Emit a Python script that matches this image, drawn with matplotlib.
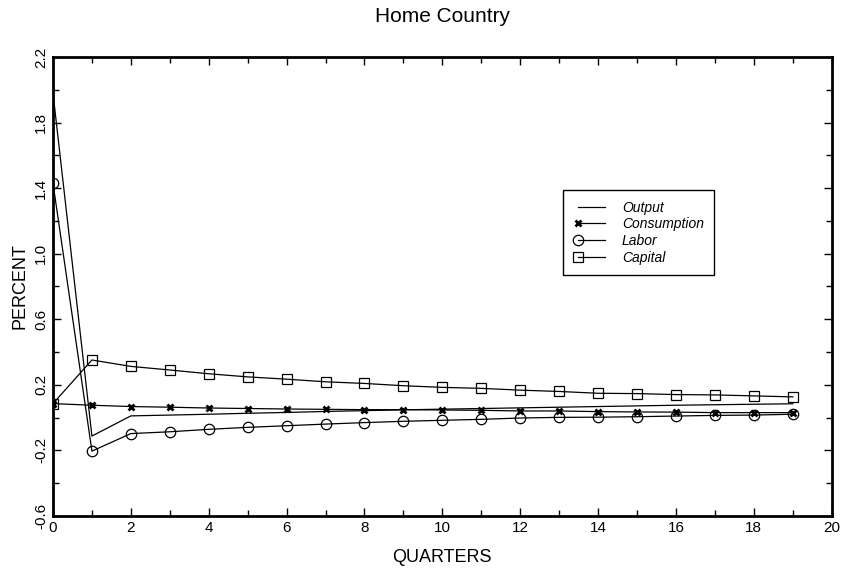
import matplotlib
matplotlib.use('Agg')
import matplotlib.pyplot as plt
from matplotlib.lines import Line2D
from matplotlib.legend_handler import HandlerLine2D
from matplotlib.ticker import MultipleLocator

# data
quarters = list(range(20))
output = [1.98, -0.113, 0.01, 0.015, 0.02, 0.026, 0.031, 0.037, 0.042, 0.047,
          0.051, 0.055, 0.059, 0.063, 0.067, 0.071, 0.075, 0.078, 0.081, 0.084]
consumption = [0.085, 0.075, 0.067, 0.063, 0.058, 0.055, 0.052, 0.05, 0.048, 0.048,
               0.046, 0.044, 0.04, 0.04, 0.036, 0.034, 0.033, 0.03, 0.03, 0.03]
labor = [1.43, -0.205, -0.098, -0.087, -0.072, -0.06, -0.05, -0.04, -0.031, -0.023,
         -0.017, -0.011, -0.003, 0.001, 0.002, 0.005, 0.009, 0.013, 0.015, 0.02]
capital = [0.085, 0.351, 0.312, 0.29, 0.267, 0.248, 0.234, 0.218, 0.208, 0.194,
           0.184, 0.178, 0.167, 0.159, 0.148, 0.146, 0.14, 0.138, 0.132, 0.126]
yticks = [-0.6, -0.2, 0.2, 0.6, 1.0, 1.4, 1.8, 2.2]
xticks = list(range(0, 21, 2))

plt.rcParams['font.family'] = ['Liberation Sans', 'DejaVu Sans']


class LeftMarker(HandlerLine2D):
    # only one marker, at the left end of the sample line
    def create_artists(self, *args, **kwargs):
        artists = super().create_artists(*args, **kwargs)
        for a in artists:
            a.set_markevery([0])
        return artists


fig = plt.figure(figsize=(8.41, 5.70), dpi=100)
ax = fig.add_axes([0.063, 0.095, 0.926, 0.805])

lw = 0.9
ax.plot(quarters, output, color='black', lw=lw, label='Output')
ax.plot(quarters, consumption, color='black', lw=lw, marker='x', ms=5,
        mew=2.0, label='Consumption')
ax.plot(quarters, labor, color='black', lw=lw, marker='o', ms=7.5,
        mfc='none', mew=0.9, label='Labor')
ax.plot(quarters, capital, color='black', lw=lw, marker='s', ms=6.5,
        mfc='none', mew=0.9, label='Capital')

ax.set_xlim(0, 20)
ax.set_ylim(-0.6, 2.2)
ax.set_xticks(xticks)
ax.set_yticks(yticks)
ax.set_yticklabels(['%.1f' % v for v in yticks], rotation=90, va='center')
ax.xaxis.set_minor_locator(MultipleLocator(1))
ax.yaxis.set_minor_locator(MultipleLocator(0.2))
ax.tick_params(which='both', direction='in', top=True, right=True,
               labelsize=11, width=1)
ax.tick_params(which='major', length=6)
ax.tick_params(which='minor', length=4)
for s in ax.spines.values():
    s.set_linewidth(2)

ax.set_xlabel('QUARTERS', fontsize=13, labelpad=10)
ax.set_ylabel('PERCENT', fontsize=13, labelpad=4)
ax.set_title('Home Country', fontsize=15, pad=25)

leg = ax.legend(loc='upper left', bbox_to_anchor=(0.646, 0.725), fancybox=False,
                edgecolor='black', framealpha=1, fontsize=10, numpoints=2,
                handlelength=2.6, handletextpad=0.9, borderpad=0.75,
                labelspacing=0.2, handler_map={Line2D: LeftMarker()})
leg.get_frame().set_linewidth(1.0)
for t in leg.get_texts():
    t.set_fontstyle('italic')

fig.savefig('out.png', dpi=100)
